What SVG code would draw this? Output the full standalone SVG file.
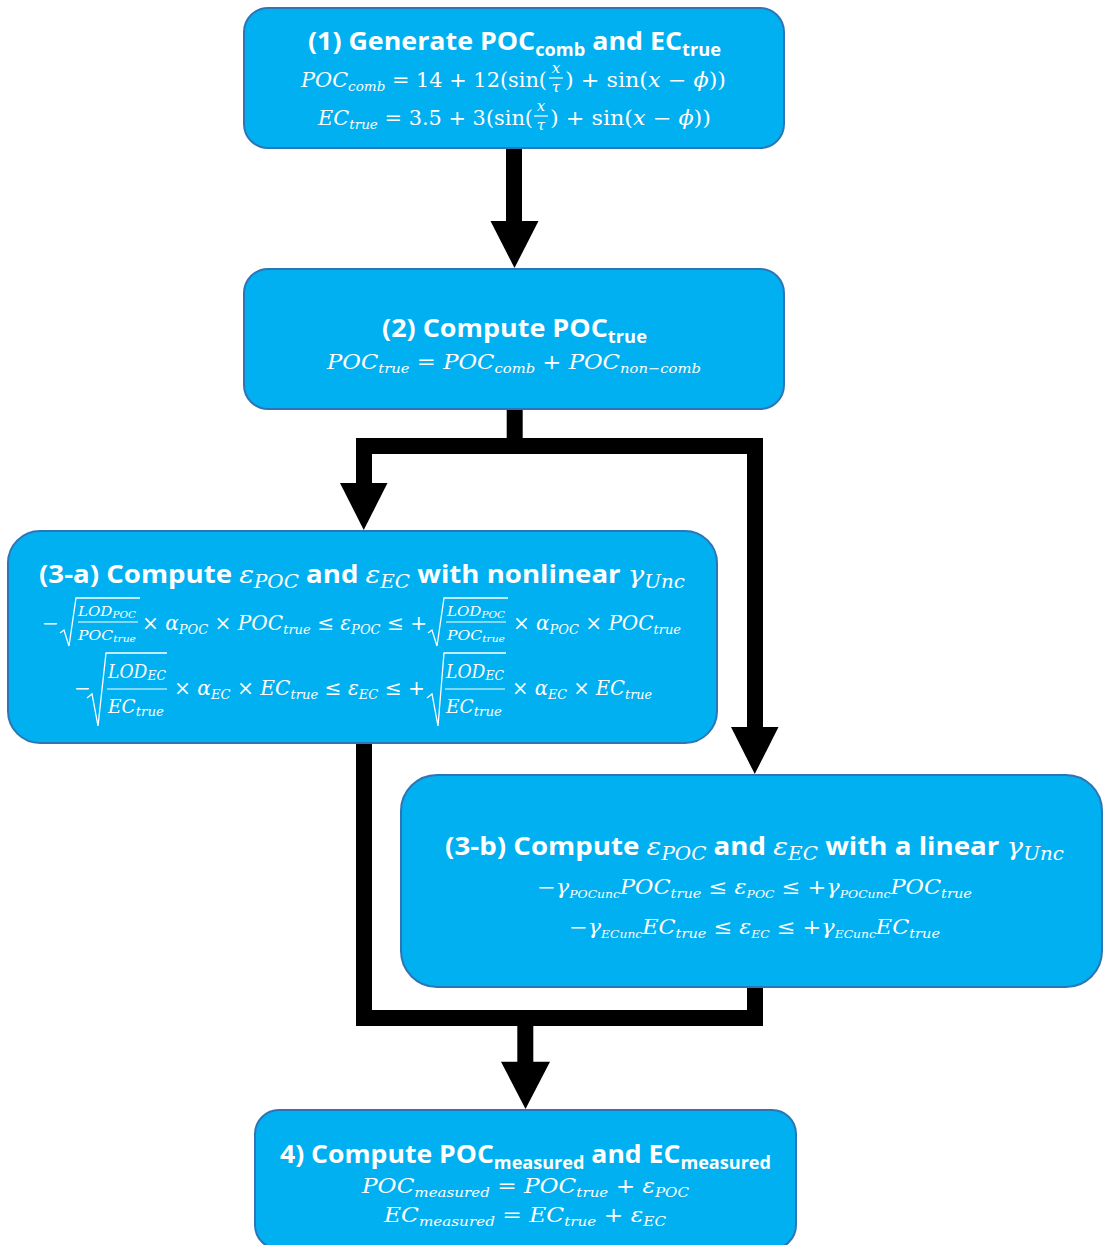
<svg xmlns="http://www.w3.org/2000/svg" width="1105" height="1245" viewBox="0 0 1105 1245">
<style>
.box{fill:#00B0F0;stroke:#2E75B6;stroke-width:2}
.t{font-family:"Open Sans",Lato,sans-serif;font-weight:700;font-size:25px;fill:#fff}
.ts{font-size:17px}
.mi{font-family:"DejaVu Serif",serif;font-style:italic;font-weight:400;font-size:25px}
.ms{font-size:18px}
.m{font-family:"DejaVu Serif",serif;font-style:italic;font-size:20px;fill:#fff}
.u{font-style:normal}
.s{font-size:13px}
.sm{font-size:13px}
.ss{font-size:9px}
.fs{font-size:15px}
.fn{font-size:18px}
.xs{font-size:11px}
.fb{stroke:#fff;stroke-width:1.2}
.rad{fill:none;stroke:#fff;stroke-width:1.3;stroke-linejoin:miter}
.c{fill:none;stroke:#000;stroke-width:16;stroke-linejoin:miter;stroke-linecap:butt}
.ah{fill:#000}
</style>

<g id="node1">
<rect class="box" x="244" y="8" width="540" height="140" rx="24"/>
<text class="t" x="514.5" y="50" text-anchor="middle" textLength="413" lengthAdjust="spacingAndGlyphs">(1) Generate POC<tspan class="ts" dy="6">comb</tspan><tspan dy="-6"> and EC</tspan><tspan class="ts" dy="6">true</tspan></text>
<text class="m" x="301" y="87" textLength="246" lengthAdjust="spacingAndGlyphs">POC<tspan class="s" dy="4">comb</tspan><tspan class="u" dy="-4"> = 14 + 12(sin(</tspan></text>
<text class="m fs" x="556" y="73" text-anchor="middle">x</text>
<line class="fb" x1="549" y1="78" x2="563" y2="78"/>
<text class="m fs" x="556" y="92" text-anchor="middle">τ</text>
<text class="m" x="565" y="87" textLength="161" lengthAdjust="spacingAndGlyphs"><tspan class="u">) + sin(</tspan>x <tspan class="u">−</tspan> ϕ<tspan class="u">))</tspan></text>
<text class="m" x="318" y="125" textLength="215" lengthAdjust="spacingAndGlyphs">EC<tspan class="s" dy="4">true</tspan><tspan class="u" dy="-4"> = 3.5 + 3(sin(</tspan></text>
<text class="m fs" x="541" y="111" text-anchor="middle">x</text>
<line class="fb" x1="534" y1="116" x2="548" y2="116"/>
<text class="m fs" x="541" y="130" text-anchor="middle">τ</text>
<text class="m" x="550" y="125" textLength="161" lengthAdjust="spacingAndGlyphs"><tspan class="u">) + sin(</tspan>x <tspan class="u">−</tspan> ϕ<tspan class="u">))</tspan></text>
</g>

<g id="node2">
<rect class="box" x="244" y="269" width="540" height="140" rx="24"/>
<text class="t" x="514.5" y="337" text-anchor="middle" textLength="265" lengthAdjust="spacingAndGlyphs">(2) Compute POC<tspan class="ts" dy="6">true</tspan></text>
<text class="m" x="327" y="369" textLength="374" lengthAdjust="spacingAndGlyphs">POC<tspan class="s" dy="4">true</tspan><tspan class="u" dy="-4"> = </tspan>POC<tspan class="s" dy="4">comb</tspan><tspan class="u" dy="-4"> + </tspan>POC<tspan class="s" dy="4">non−comb</tspan></text>
</g>

<g id="node3a">
<rect class="box" x="8" y="531" width="709" height="212" rx="32"/>
<text class="t" x="39" y="583" textLength="646" lengthAdjust="spacingAndGlyphs">(3-a) Compute <tspan class="mi">ε</tspan><tspan class="mi ms" dy="5">POC</tspan><tspan dy="-5"> and </tspan><tspan class="mi">ε</tspan><tspan class="mi ms" dy="5">EC</tspan><tspan dy="-5"> with nonlinear </tspan><tspan class="mi">γ</tspan><tspan class="mi ms" dy="5">Unc</tspan></text>
<text class="m u" x="42" y="630">−</text>
<path class="rad" d="M60 633 L64 630 L69 646 L76 598 H140"/>
<text class="m sm" x="78" y="616" textLength="58" lengthAdjust="spacingAndGlyphs">LOD<tspan class="ss" dy="2">POC</tspan></text>
<line class="fb" x1="78" y1="622" x2="138" y2="622"/>
<text class="m sm" x="78" y="640" textLength="58" lengthAdjust="spacingAndGlyphs">POC<tspan class="ss" dy="2">true</tspan></text>
<text class="m" x="142" y="630" textLength="285" lengthAdjust="spacingAndGlyphs"><tspan class="u">× </tspan>α<tspan class="s" dy="4">POC</tspan><tspan class="u" dy="-4"> × </tspan>POC<tspan class="s" dy="4">true</tspan><tspan class="u" dy="-4"> ≤ </tspan>ε<tspan class="s" dy="4">POC</tspan><tspan class="u" dy="-4"> ≤ +</tspan></text>
<path class="rad" d="M428 633 L432 630 L437 646 L444 598 H508"/>
<text class="m sm" x="447" y="616" textLength="58" lengthAdjust="spacingAndGlyphs">LOD<tspan class="ss" dy="2">POC</tspan></text>
<line class="fb" x1="446" y1="622" x2="506" y2="622"/>
<text class="m sm" x="447" y="640" textLength="58" lengthAdjust="spacingAndGlyphs">POC<tspan class="ss" dy="2">true</tspan></text>
<text class="m" x="513" y="630" textLength="168" lengthAdjust="spacingAndGlyphs"><tspan class="u">× </tspan>α<tspan class="s" dy="4">POC</tspan><tspan class="u" dy="-4"> × </tspan>POC<tspan class="s" dy="4">true</tspan></text>

<text class="m u" x="74" y="695">−</text>
<path class="rad" d="M87 698 L92 694 L98 726 L106 653 H167"/>
<text class="m fn" x="108" y="678" textLength="58" lengthAdjust="spacingAndGlyphs">LOD<tspan class="s" dy="2">EC</tspan></text>
<line class="fb" x1="107" y1="689" x2="167" y2="689"/>
<text class="m fn" x="108" y="713" textLength="56" lengthAdjust="spacingAndGlyphs">EC<tspan class="s" dy="3">true</tspan></text>
<text class="m" x="174" y="695" textLength="251" lengthAdjust="spacingAndGlyphs"><tspan class="u">× </tspan>α<tspan class="s" dy="4">EC</tspan><tspan class="u" dy="-4"> × </tspan>EC<tspan class="s" dy="4">true</tspan><tspan class="u" dy="-4">  ≤ </tspan>ε<tspan class="s" dy="4">EC</tspan><tspan class="u" dy="-4"> ≤ +</tspan></text>
<path class="rad" d="M427 698 L432 694 L438 726 L444 653 H506"/>
<text class="m fn" x="446" y="678" textLength="58" lengthAdjust="spacingAndGlyphs">LOD<tspan class="s" dy="2">EC</tspan></text>
<line class="fb" x1="445" y1="689" x2="505" y2="689"/>
<text class="m fn" x="446" y="713" textLength="56" lengthAdjust="spacingAndGlyphs">EC<tspan class="s" dy="3">true</tspan></text>
<text class="m" x="512" y="695" textLength="140" lengthAdjust="spacingAndGlyphs"><tspan class="u">× </tspan>α<tspan class="s" dy="4">EC</tspan><tspan class="u" dy="-4"> × </tspan>EC<tspan class="s" dy="4">true</tspan></text>
</g>

<g id="node3b">
<rect class="box" x="401" y="775" width="701" height="212" rx="36"/>
<text class="t" x="445" y="855" textLength="619" lengthAdjust="spacingAndGlyphs">(3-b) Compute <tspan class="mi">ε</tspan><tspan class="mi ms" dy="5">POC</tspan><tspan dy="-5"> and </tspan><tspan class="mi">ε</tspan><tspan class="mi ms" dy="5">EC</tspan><tspan dy="-5"> with a linear </tspan><tspan class="mi">γ</tspan><tspan class="mi ms" dy="5">Unc</tspan></text>
<text class="m" x="537" y="894" textLength="435" lengthAdjust="spacingAndGlyphs"><tspan class="u">−</tspan>γ<tspan class="xs" dy="4">POCunc</tspan><tspan dy="-4">POC</tspan><tspan class="s" dy="4">true</tspan><tspan class="u" dy="-4">  ≤ </tspan>ε<tspan class="xs" dy="4">POC</tspan><tspan class="u" dy="-4"> ≤ +</tspan>γ<tspan class="xs" dy="4">POCunc</tspan><tspan dy="-4">POC</tspan><tspan class="s" dy="4">true</tspan></text>
<text class="m" x="569" y="934" textLength="371" lengthAdjust="spacingAndGlyphs"><tspan class="u">−</tspan>γ<tspan class="xs" dy="4">ECunc</tspan><tspan dy="-4">EC</tspan><tspan class="s" dy="4">true</tspan><tspan class="u" dy="-4">  ≤ </tspan>ε<tspan class="xs" dy="4">EC</tspan><tspan class="u" dy="-4"> ≤ +</tspan>γ<tspan class="xs" dy="4">ECunc</tspan><tspan dy="-4">EC</tspan><tspan class="s" dy="4">true</tspan></text>
</g>

<g id="node4">
<rect class="box" x="255" y="1110" width="541" height="139" rx="24"/>
<text class="t" x="280" y="1163" textLength="491" lengthAdjust="spacingAndGlyphs">4) Compute POC<tspan class="ts" dy="6">measured</tspan><tspan dy="-6"> and EC</tspan><tspan class="ts" dy="6">measured</tspan></text>
<text class="m" x="362" y="1193" textLength="327" lengthAdjust="spacingAndGlyphs">POC<tspan class="s" dy="4">measured</tspan><tspan class="u" dy="-4"> = </tspan>POC<tspan class="s" dy="4">true</tspan><tspan class="u" dy="-4"> +  </tspan>ε<tspan class="s" dy="4">POC</tspan></text>
<text class="m" x="384" y="1222" textLength="282" lengthAdjust="spacingAndGlyphs">EC<tspan class="s" dy="4">measured</tspan><tspan class="u" dy="-4"> = </tspan>EC<tspan class="s" dy="4">true</tspan><tspan class="u" dy="-4"> +  </tspan>ε<tspan class="s" dy="4">EC</tspan></text>
</g>

<g id="connectors">
<path class="c" d="M514 149 V222"/>
<polygon class="ah" points="490.5,221 538.5,221 514.5,268"/>
<path class="c" d="M514.7 410 V446"/>
<path class="c" d="M364 484 V446 H755 V728"/>
<polygon class="ah" points="340,483 387.5,483 363.75,530"/>
<polygon class="ah" points="731,727 778.5,727 754.75,774"/>
<path class="c" d="M364 744 V1018 H755 V988"/>
<path class="c" d="M525.3 1018 V1062"/>
<polygon class="ah" points="501,1061.7 550,1061.7 525.5,1109"/>
</g>
</svg>
